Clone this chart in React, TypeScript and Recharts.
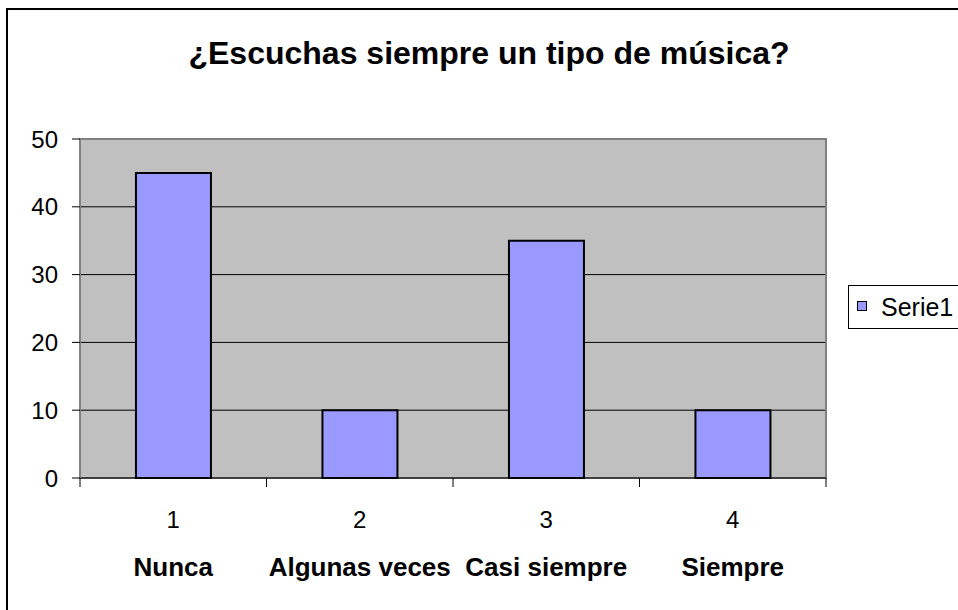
import React from "react";
import { BarChart, Bar, XAxis, YAxis, CartesianGrid, ReferenceArea } from "recharts";

const categories = ["1", "2", "3", "4"];
const categoryNames = ["Nunca", "Algunas veces", "Casi siempre", "Siempre"];
const serie1 = [45, 10, 35, 10];
const yTicks = [0, 10, 20, 30, 40, 50];
const title = "¿Escuchas siempre un tipo de música?";
const seriesName = "Serie1";

const data = categories.map((c, i) => ({ cat: c, name: categoryNames[i], Serie1: serie1[i] }));

const FONT = "Arial, 'Liberation Sans', sans-serif";

const XTick = (props: any) => {
  const { x, y, payload, index, visibleTicksCount, width } = props;
  const half =
    payload && payload.offset ? payload.offset : width && visibleTicksCount ? width / visibleTicksCount / 2 : 93.25;
  const name = categoryNames[index] ?? "";
  const isLast = index === (visibleTicksCount ?? 4) - 1;
  return (
    <g>
      <line x1={x - half} x2={x - half} y1={y} y2={y + 9} stroke="#000" strokeWidth={1} />
      {isLast && <line x1={x + half} x2={x + half} y1={y} y2={y + 9} stroke="#000" strokeWidth={1} />}
      <text x={x} y={y + 50} textAnchor="middle" fontSize={24} fontFamily={FONT} fill="#000">
        {payload.value}
      </text>
      <text x={x} y={y + 98} textAnchor="middle" fontSize={26} fontWeight="bold" fontFamily={FONT} fill="#000">
        {name}
      </text>
    </g>
  );
};

export default function App() {
  return (
    <div style={{ position: "absolute", left: 0, top: 0, width: 958, height: 610, overflow: "hidden", background: "#fff" }}>
      <div
        style={{
          position: "absolute",
          left: 6,
          top: 8,
          width: 980,
          height: 640,
          border: "2px solid #000",
          boxSizing: "border-box",
        }}
      />
      <div style={{ position: "absolute", left: 0, top: 0 }}>
        <BarChart
          width={958}
          height={610}
          data={data}
          margin={{ top: 139, right: 132, bottom: 0, left: 0 }}
          barCategoryGap="30%"
        >
          <CartesianGrid vertical={false} stroke="#000" fill="#C0C0C0" fillOpacity={1} />
          <ReferenceArea y1={0} y2={50} fill="none" stroke="#808080" strokeWidth={2} ifOverflow="visible" />
          <XAxis
            dataKey="cat"
            height={132}
            tickLine={false}
            tickSize={0}
            tickMargin={0}
            axisLine={{ stroke: "#000", strokeWidth: 1 }}
            tick={<XTick />}
            interval={0}
          />
          <YAxis
            width={80}
            domain={[0, 50]}
            ticks={yTicks}
            interval={0}
            tickSize={8}
            tickMargin={14}
            axisLine={{ stroke: "#808080", strokeWidth: 2 }}
            tickLine={{ stroke: "#000" }}
            tick={{ fontSize: 24, fill: "#000", fontFamily: FONT }}
          />
          <Bar dataKey="Serie1" fill="#9999FF" stroke="#000" strokeWidth={2} isAnimationActive={false} />
        </BarChart>
      </div>
      <svg width={958} height={610} style={{ position: "absolute", left: 0, top: 0, pointerEvents: "none" }}>
        <text x={489} y={64} textAnchor="middle" fontSize={32} fontWeight="bold" fontFamily={FONT} fill="#000">
          {title}
        </text>
        <rect x={848.5} y={285.5} width={120} height={43} fill="#fff" stroke="#000" strokeWidth={1} />
        <rect x={857.5} y={301.5} width={9} height={9} fill="#9999FF" stroke="#000" strokeWidth={1} />
        <text x={881} y={316} fontSize={25} fontFamily={FONT} fill="#000">
          {seriesName}
        </text>
      </svg>
    </div>
  );
}
